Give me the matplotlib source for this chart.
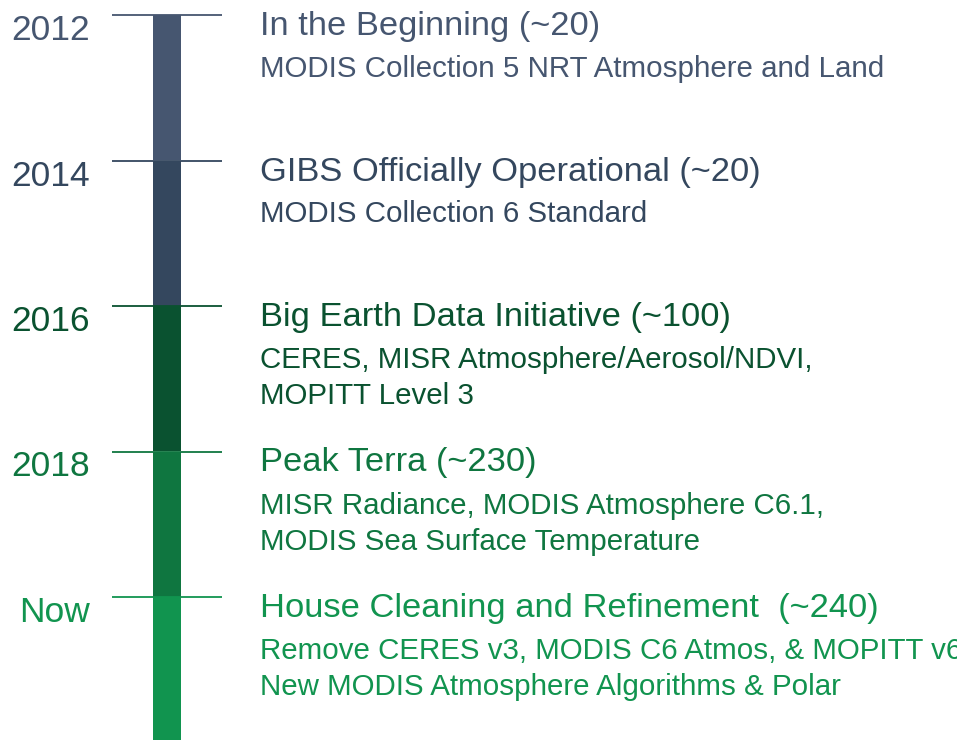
import matplotlib
matplotlib.use("Agg")
import matplotlib.pyplot as plt

plt.rcParams['font.family'] = ['Liberation Sans', 'DejaVu Sans']

# timeline data
starts = [2012, 2014, 2016, 2018, 2020]
labels = ["2012", "2014", "2016", "2018", "Now"]
titles = ["In the Beginning (~20)",
          "GIBS Officially Operational (~20)",
          "Big Earth Data Initiative (~100)",
          "Peak Terra (~230)",
          "House Cleaning and Refinement  (~240)"]
details = [["MODIS Collection 5 NRT Atmosphere and Land"],
           ["MODIS Collection 6 Standard"],
           ["CERES, MISR Atmosphere/Aerosol/NDVI,", "MOPITT Level 3"],
           ["MISR Radiance, MODIS Atmosphere C6.1,", "MODIS Sea Surface Temperature"],
           ["Remove CERES v3, MODIS C6 Atmos, & MOPITT v6",
            "New MODIS Atmosphere Algorithms & Polar"]]
colors = ["#465670", "#34475e", "#0a5230", "#0f7640", "#11944f"]

fig = plt.figure(figsize=(9.57, 7.40), dpi=100)
ax = fig.add_axes([0, 0, 1, 1])

px = 145.5 / 2  # pixels per year
ax.set_xlim(0, 957)
ax.set_ylim(2012 + 725 / px, 2012 - 15 / px)
ax.axis('off')

for i, y in enumerate(starts):
    c = colors[i]
    ax.bar(167, 2, bottom=y, width=28, color=c, align='center')
    ax.hlines(y, 112, 222, color=c, lw=1.3)
    ax.text(90, y + 25 / px, labels[i], color=c, fontsize=25.5,
            ha='right', va='baseline')
    ax.text(260, y + 20 / px, titles[i], color=c, fontsize=24.8,
            ha='left', va='baseline')
    # the last detail line runs off the right edge, as in the original
    for j, line in enumerate(details[i]):
        ax.text(260, y + (62 + 36 * j) / px, line, color=c, fontsize=21.25,
                ha='left', va='baseline')

fig.savefig("out.png", dpi=100)
